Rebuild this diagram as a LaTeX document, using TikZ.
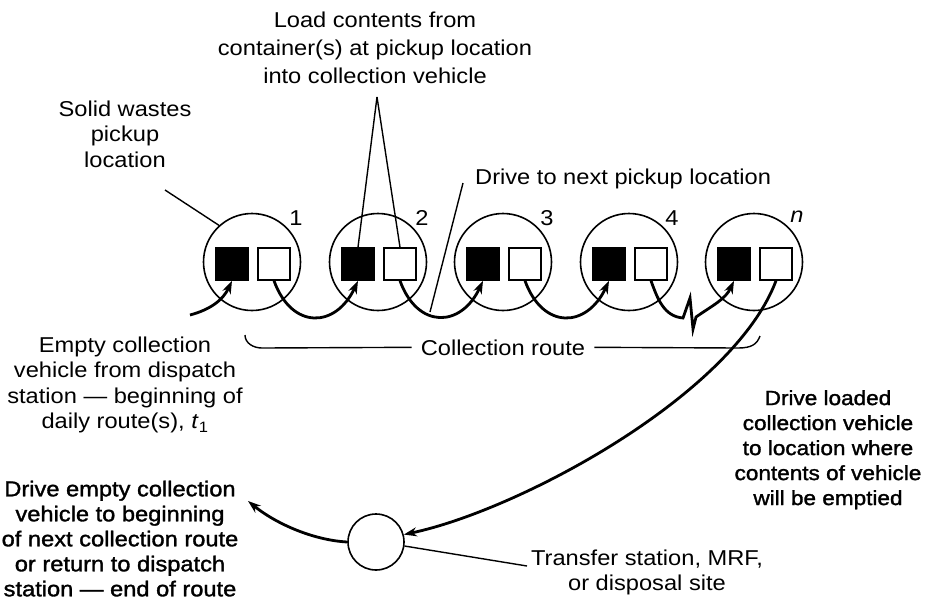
\documentclass[tikz,border=0pt]{standalone}
\usepackage{fontspec}
\setmainfont{Liberation Sans}[FakeStretch=1.1]
\newfontfamily\heavyfont{Liberation Sans}[FakeStretch=1.1,FakeBold=1.5]
\usetikzlibrary{arrows.meta}

\begin{document}
\begin{tikzpicture}[x=1pt,y=1pt,
  site/.style={circle,draw,line width=1.6pt,minimum size=97pt,inner sep=0pt},
  bin/.style={draw,line width=1.6pt,minimum size=32pt,inner sep=0pt},
  fullbin/.style={bin,fill=black},
  emptybin/.style={bin,fill=white},
  haul/.style={line width=2.8pt,-{Stealth[length=13pt,width=9pt]}},
  leader/.style={line width=1.4pt},
  lbl/.style={font=\fontsize{21.5}{25.5}\selectfont,align=center,inner sep=0pt,anchor=north},
  heavylbl/.style={lbl,font=\heavyfont\fontsize{21.5}{25}\selectfont},
  num/.style={font=\fontsize{21.5}{25.5}\selectfont,inner sep=0pt,anchor=base},
]
% canvas
\fill[white] (0,0) rectangle (926,-614);
\useasboundingbox (0,0) rectangle (926,-614);

% pickup locations with their two containers
\foreach \i/\cx in {1/252,2/378,3/503,4/629,5/754} {
  \node[site] (s\i) at (\cx,-262) {};
  \node[fullbin] (b\i) at (\cx-20,-264) {};
  \node[emptybin] (w\i) at (\cx+22,-264) {};
}
\node[num] (n1) at (296,-225) {1};
\node[num] (n2) at (422,-225) {2};
\node[num] (n3) at (547,-225) {3};
\node[num] (n4) at (672,-225) {4};
\node[num] (n5) at (797,-222) {\textit{n}};

% transfer station
\node[site,minimum size=56pt] (tc) at (376,-542) {};

% texts
\node[lbl] (solid) at (125,-100.5) {Solid wastes\\pickup\\location};
\node[lbl,font=\fontsize{21.5}{28}\selectfont] (load) at (375,-11.5)
  {Load contents from\\container(s) at pickup location\\into collection vehicle};
\node[num,anchor=base west] (drivenext) at (475,-184) {Drive to next pickup location};
\node[lbl] (start) at (125,-336.5)
  {Empty collection\\vehicle from dispatch\\station — beginning of\\daily route(s), \textit{t}\textsubscript{1}};
\node[heavylbl] (back) at (120,-480.5)
  {Drive empty collection\\vehicle to beginning\\of next collection route\\or return to dispatch\\station — end of route};
\node[heavylbl,font=\heavyfont\fontsize{20.5}{25}\selectfont] (loaded) at (828,-390)
  {Drive loaded\\collection vehicle\\to location where\\contents of vehicle\\will be emptied};
\node[lbl] (tlabel) at (647,-549.5) {Transfer station, MRF,\\or disposal site};
\node[num,inner xsep=9pt] (route) at (503,-355) {Collection route};

% free ends of leaders and arrows
\coordinate (solidend) at (165,-190);
\coordinate (loadtip) at (377,-97);
\coordinate (nexttop) at (463,-183);
\coordinate (nextbot) at (430,-312);
\coordinate (routeleft) at (245,-335);
\coordinate (routeright) at (760,-336);
\coordinate (tlead) at (527,-566);
\coordinate (routestart) at (190,-315);
\coordinate (backtip) at (248,-501);

% leader lines
\draw[leader] (solidend) -- (s1.132);
\draw[leader] (loadtip) -- (b2.north);
\draw[leader] (loadtip) -- (w2.north);
\draw[leader] (nexttop) -- (nextbot);
\draw[leader] (routeleft) to[out=-90,in=180] (262,-348) -- (route.west);
\draw[leader] (route.east) -- (738,-348) .. controls (752,-348) and (757,-344) .. (routeright);
\draw[leader] (tc.-8) -- (tlead);

% collection route
\draw[haul] (routestart) to[out=15,in=-115] (b1.south);
\foreach \i/\j in {1/2,2/3,3/4}
  \draw[haul] (w\i.south) to[out=-70,in=-115,looseness=1.6] (b\j.south);
\draw[haul] (w4.south) to[out=-70,in=175] (683,-318) -- (690,-298) -- (693,-329)
  -- (696,-317) to[out=35,in=-115] (b5.south);

% haul to the transfer station and back
\draw[haul] (w5.south) .. controls (733,-395) and (520,-510) .. (tc.15);
\draw[haul] (tc.west) .. controls (312,-540) and (275,-523) .. (backtip);
\end{tikzpicture}
\end{document}
